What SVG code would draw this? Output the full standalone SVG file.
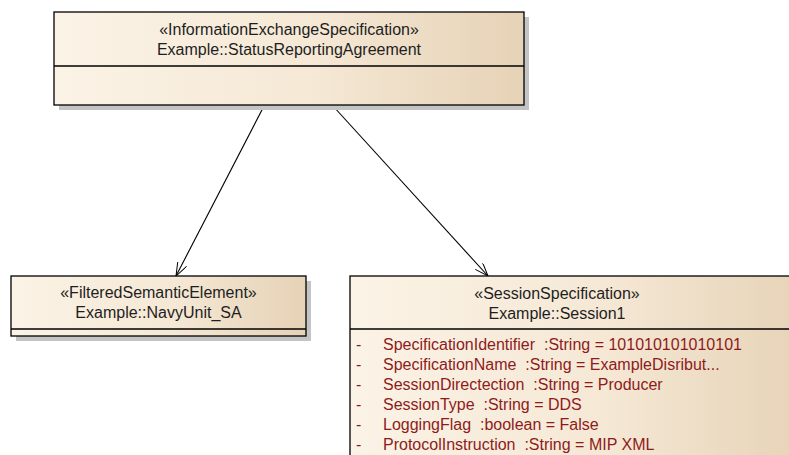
<svg xmlns="http://www.w3.org/2000/svg" width="789" height="455" viewBox="0 0 789 455">
<defs>
<linearGradient id="fill" x1="0" y1="0" x2="1" y2="0">
<stop offset="0" stop-color="#FBF3E6"/>
<stop offset="0.55" stop-color="#F5E8D5"/>
<stop offset="1" stop-color="#E6D2B6"/>
</linearGradient>
<marker id="open" viewBox="0 0 14 10" refX="13.5" refY="5" markerWidth="14" markerHeight="10" markerUnits="userSpaceOnUse" orient="auto">
<path d="M0,0 L13.5,5 L0,10" fill="none" stroke="#000" stroke-width="1"/>
</marker>
</defs>
<style>
.shadow{fill:#C4C4C4;}
.box{fill:url(#fill);stroke:#000;stroke-width:1.3;}
.div{stroke:#000;stroke-width:1.3;}
.t{font-family:"Liberation Sans",Arial,sans-serif;font-size:16px;fill:#1E1E1E;text-anchor:middle;}
.a{font-family:"Liberation Sans",Arial,sans-serif;font-size:16px;fill:#8E1B1B;white-space:pre;}
.edge{stroke:#000;stroke-width:1.1;fill:none;marker-end:url(#open);}
</style>
<g id="connectors">
<line class="edge" x1="264" y1="106" x2="176" y2="276"/>
<line class="edge" x1="333" y1="106" x2="488" y2="276"/>
</g>
<g id="StatusReportingAgreement">
<rect class="shadow" x="59" y="17" width="470" height="93"/>
<rect class="box" x="54" y="12" width="470" height="93"/>
<line class="div" x1="54" y1="66" x2="524" y2="66"/>
<text class="t" x="289" y="35">«InformationExchangeSpecification»</text>
<text class="t" x="289" y="55">Example::StatusReportingAgreement</text>
</g>
<g id="NavyUnit_SA">
<rect class="shadow" x="16" y="281" width="295" height="60"/>
<rect class="box" x="11" y="276" width="295" height="60"/>
<line class="div" x1="11" y1="329" x2="306" y2="329"/>
<text class="t" x="158.5" y="298">«FilteredSemanticElement»</text>
<text class="t" x="158.5" y="318">Example::NavyUnit_SA</text>
</g>
<g id="Session1">
<rect class="box" x="350" y="276" width="460" height="200"/>
<line class="div" x1="350" y1="329" x2="810" y2="329"/>
<text class="t" x="557" y="299">«SessionSpecification»</text>
<text class="t" x="557" y="319">Example::Session1</text>
<g class="attrs" xml:space="preserve">
<text class="a" x="356" y="350">-</text><text class="a" x="383" y="350">SpecificationIdentifier  :String = 101010101010101</text>
<text class="a" x="356" y="370">-</text><text class="a" x="383" y="370">SpecificationName  :String = ExampleDisribut...</text>
<text class="a" x="356" y="390">-</text><text class="a" x="383" y="390">SessionDirectection  :String = Producer</text>
<text class="a" x="356" y="410">-</text><text class="a" x="383" y="410">SessionType  :String = DDS</text>
<text class="a" x="356" y="430">-</text><text class="a" x="383" y="430">LoggingFlag  :boolean = False</text>
<text class="a" x="356" y="450">-</text><text class="a" x="383" y="450">ProtocolInstruction  :String = MIP XML</text>
</g>
</g>
</svg>
